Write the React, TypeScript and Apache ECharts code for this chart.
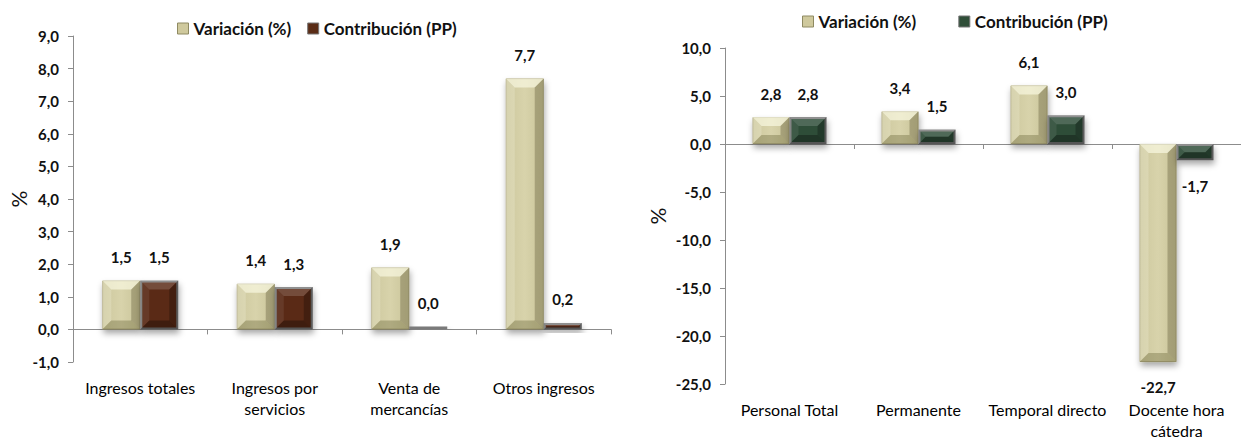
import React, { useEffect, useRef } from "react";
import * as echarts from "echarts";

const leftCategories = ["Ingresos totales", "Ingresos por\nservicios", "Venta de\nmercancías", "Otros ingresos"];
const leftVariacion = [1.5, 1.4, 1.9, 7.7];
const leftContribucion = [1.5, 1.3, 0.0, 0.2];

const rightCategories = ["Personal Total", "Permanente", "Temporal directo", "Docente hora\ncátedra"];
const rightVariacion = [2.8, 3.4, 6.1, -22.7];
const rightContribucion = [2.8, 1.5, 3.0, -1.7];

const seriesNames = ["Variación (%)", "Contribución (PP)"];

const FONT = "Lato, 'Open Sans', 'DejaVu Sans', sans-serif";
const fmt = (v: number) => v.toFixed(1).replace(".", ",");

const khaki = new echarts.graphic.LinearGradient(0, 0, 1, 0, [
  { offset: 0, color: "#cdc89e" },
  { offset: 0.5, color: "#d8d3ab" },
  { offset: 1, color: "#c9c499" },
]);
const brown = "#5a2c16";
const green = "#2f4e38";

const labelFor = (v: number) => ({
  show: true,
  position: v < 0 ? "bottom" : "top",
  distance: v < 0 ? 18 : 16,
  formatter: () => fmt(v),
  fontFamily: FONT,
  fontWeight: "bold",
  fontSize: 15,
  color: "#111",
});

const mkData = (arr: number[]) => arr.map((v) => ({ value: v, label: labelFor(v) }));

const axisGray = "#8c8c8c";

function makeXAxes(cats: string[], gridIndex: number, yIndex: number) {
  return [
    {
      type: "category",
      gridIndex,
      position: "bottom",
      data: cats,
      axisLine: { show: false, onZero: false },
      axisTick: { show: false },
      axisLabel: {
        interval: 0,
        margin: 15,
        fontFamily: FONT,
        fontSize: 16,
        lineHeight: 21,
        color: "#000",
      },
    },
    {
      type: "category",
      gridIndex,
      position: "bottom",
      data: cats,
      axisLine: { show: true, onZero: true, onZeroAxisIndex: yIndex, lineStyle: { color: axisGray, width: 1 } },
      axisTick: { show: true, length: 5, lineStyle: { color: axisGray } },
      axisLabel: { show: false },
    },
  ];
}

function makeYAxis(gridIndex: number, min: number, max: number, interval: number, nameGap: number) {
  return {
    type: "value",
    gridIndex,
    min,
    max,
    interval,
    name: "%",
    nameLocation: "middle",
    nameRotate: 90,
    nameGap,
    nameTextStyle: { fontFamily: FONT, fontSize: 21, color: "#111" },
    splitLine: { show: false },
    axisLine: { show: true, lineStyle: { color: axisGray, width: 1 } },
    axisTick: { show: true, length: 5, lineStyle: { color: axisGray } },
    axisLabel: {
      margin: 14,
      formatter: (v: number) => fmt(v),
      fontFamily: FONT,
      fontWeight: "bold",
      fontSize: 15,
      color: "#111",
    },
  };
}

const shadow = {
  shadowBlur: 6,
  shadowColor: "rgba(0,0,0,0.35)",
  shadowOffsetY: 4,
  shadowOffsetX: 1,
};

// bevel overlay drawn through the axes' own coordinate system
function bevelSeries(xAxisIndex: number, yAxisIndex: number, v1: number[], v2: number[], barW: number) {
  const data: number[][] = [];
  v1.forEach((v, i) => data.push([i, v, 0]));
  v2.forEach((v, i) => data.push([i, v, 1]));
  return {
    type: "custom",
    xAxisIndex,
    yAxisIndex,
    silent: true,
    z: 5,
    encode: { x: 0, y: 1 },
    data,
    renderItem: (params: any, api: any) => {
      const cat = api.value(0);
      const val = api.value(1);
      const which = api.value(2);
      const base = api.coord([cat, 0]);
      const top = api.coord([cat, val]);
      const x0 = which === 0 ? base[0] - barW : base[0];
      const x1 = x0 + barW;
      const y0 = Math.min(base[1], top[1]);
      const y1 = Math.max(base[1], top[1]);
      const h = y1 - y0;
      if (h < 3) return { type: "group", children: [] };
      const light = which === 0;
      const b = Math.min(9, h / 2, barW / 2);
      const poly = (pts: number[][], fill: string) => ({
        type: "polygon",
        shape: { points: pts },
        style: { fill },
      });
      return {
        type: "group",
        children: [
          poly([[x0, y0], [x1, y0], [x1 - b, y0 + b], [x0 + b, y0 + b]], light ? "rgba(255,255,235,0.6)" : "rgba(255,255,255,0.16)"),
          poly([[x0, y0], [x0 + b, y0 + b], [x0 + b, y1 - b], [x0, y1]], light ? "rgba(255,255,240,0.2)" : "rgba(255,255,255,0.08)"),
          poly([[x1, y0], [x1, y1], [x1 - b, y1 - b], [x1 - b, y0 + b]], light ? "rgba(60,55,20,0.28)" : "rgba(0,0,0,0.25)"),
          poly([[x0, y1], [x0 + b, y1 - b], [x1 - b, y1 - b], [x1, y1]], light ? "rgba(80,75,30,0.3)" : "rgba(0,0,0,0.3)"),
        ],
      };
    },
  };
}

export default function App() {
  const ref = useRef<HTMLDivElement>(null);
  useEffect(() => {
    if (!ref.current) return;
    const chart = echarts.init(ref.current, undefined, { renderer: "svg" });
    const legendText = { fontFamily: FONT, fontWeight: "bold", fontSize: 17, color: "#111" };
    chart.setOption({
      animation: false,
      backgroundColor: "#ffffff",
      legend: [
        {
          left: 172,
          top: 15,
          itemWidth: 11,
          itemHeight: 11,
          itemGap: 16,
          icon: "rect",
          textStyle: legendText,
          data: [
            { name: seriesNames[0], itemStyle: { color: "#cfc99d", borderColor: "#8f8a62", borderWidth: 1 } },
            { name: seriesNames[1], itemStyle: { color: brown, borderColor: "#777", borderWidth: 1 } },
          ],
          selectedMode: false,
        },
        {
          left: 797,
          top: 8,
          itemWidth: 11,
          itemHeight: 11,
          itemGap: 38,
          icon: "rect",
          textStyle: legendText,
          data: [
            { name: seriesNames[0] + " ", itemStyle: { color: "#cfc99d", borderColor: "#8f8a62", borderWidth: 1 } },
            { name: seriesNames[1] + " ", itemStyle: { color: green, borderColor: "#777", borderWidth: 1 } },
          ],
          selectedMode: false,
        },
      ],
      grid: [
        { left: 73, top: 36, width: 538, height: 326 },
        { left: 725, top: 48, width: 526, height: 339 },
      ],
      xAxis: [...makeXAxes(leftCategories, 0, 0), ...makeXAxes(rightCategories, 1, 1)],
      yAxis: [makeYAxis(0, -1, 9, 1, 44), makeYAxis(1, -25, 10, 5, 57)],
      series: [
        {
          name: seriesNames[0],
          type: "bar",
          xAxisIndex: 0,
          yAxisIndex: 0,
          barWidth: 38,
          barGap: "0%",
          data: mkData(leftVariacion),
          itemStyle: { color: khaki, borderColor: "#a8a27a", borderWidth: 0.8, ...shadow },
        },
        {
          name: seriesNames[1],
          type: "bar",
          xAxisIndex: 0,
          yAxisIndex: 0,
          barWidth: 38,
          barGap: "0%",
          barMinHeight: 3,
          data: mkData(leftContribucion),
          itemStyle: { color: brown, borderColor: "#7a7a7a", borderWidth: 2, ...shadow },
        },
        {
          name: seriesNames[0] + " ",
          type: "bar",
          xAxisIndex: 2,
          yAxisIndex: 1,
          barWidth: 37,
          barGap: "0%",
          data: mkData(rightVariacion),
          itemStyle: { color: khaki, borderColor: "#a8a27a", borderWidth: 0.8, ...shadow },
        },
        {
          name: seriesNames[1] + " ",
          type: "bar",
          xAxisIndex: 2,
          yAxisIndex: 1,
          barWidth: 37,
          barGap: "0%",
          data: mkData(rightContribucion),
          itemStyle: { color: green, borderColor: "#7a7a7a", borderWidth: 2, ...shadow },
        },
        bevelSeries(0, 0, leftVariacion, leftContribucion, 38),
        bevelSeries(2, 1, rightVariacion, rightContribucion, 37),
      ],
    });
    return () => chart.dispose();
  }, []);
  return (
    <div
      ref={ref}
      style={{ position: "absolute", left: 0, top: 0, width: 1241, height: 441 }}
    />
  );
}
